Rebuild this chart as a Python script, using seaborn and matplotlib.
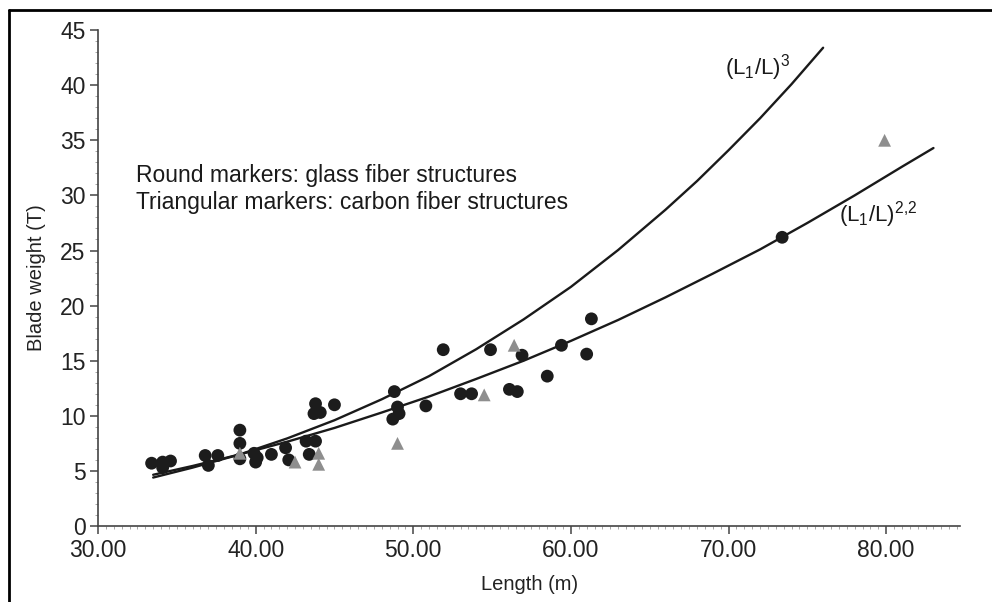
import pandas as pd
import matplotlib.pyplot as plt
import seaborn as sns
from matplotlib.lines import Line2D
from matplotlib.ticker import MultipleLocator, FormatStrFormatter

# Round markers: glass fiber blades
glass_length = [33.4, 34.1, 34.1, 34.6, 36.8, 37.0, 37.6, 39.0, 39.0, 39.0,
                39.9, 40.0, 40.1, 41.0, 41.9, 42.1, 43.2, 43.4, 43.8, 43.8,
                43.7, 44.1, 45.0, 48.8, 48.7, 49.0, 49.1, 50.8, 51.9, 53.0,
                53.7, 54.9, 56.1, 56.6, 56.9, 58.5, 59.4, 61.0, 61.3, 73.4]
glass_weight = [5.7, 5.8, 5.3, 5.9, 6.4, 5.5, 6.4, 8.7, 7.5, 6.1,
                6.6, 5.8, 6.2, 6.5, 7.1, 6.0, 7.7, 6.5, 7.7, 11.1,
                10.2, 10.3, 11.0, 12.2, 9.7, 10.8, 10.2, 10.9, 16.0, 12.0,
                12.0, 16.0, 12.4, 12.2, 15.5, 13.6, 16.4, 15.6, 18.8, 26.2]

# Triangular markers: carbon fiber blades
carbon_length = [39.0, 42.5, 44.0, 44.0, 49.0, 54.5, 56.4, 79.9]
carbon_weight = [6.6, 5.8, 6.6, 5.6, 7.5, 11.9, 16.4, 35.0]

# scaling curves
cube_length = [33.5, 36, 39, 42, 45, 48, 51, 54, 57, 60, 63, 66, 68, 70,
               72, 74, 76]
cube_weight = [4.4, 5.3, 6.5, 7.95, 9.6, 11.5, 13.6, 16.05, 18.75, 21.7,
               25.05, 28.7, 31.3, 34.1, 37.0, 40.1, 43.4]
pow22_length = [33.5, 36, 39, 42, 45, 48, 51, 54, 57, 60, 63, 66, 69, 72,
                75, 78, 81, 83]
pow22_weight = [4.65, 5.45, 6.5, 7.65, 8.9, 10.3, 11.75, 13.35, 15.0, 16.8,
                18.7, 20.75, 22.9, 25.1, 27.5, 30.0, 32.6, 34.3]

sns.set_style('ticks')
plt.rcParams['font.family'] = ['Liberation Sans', 'DejaVu Sans']
plt.rcParams['mathtext.fontset'] = 'custom'
plt.rcParams['mathtext.rm'] = 'Liberation Sans'
plt.rcParams['mathtext.it'] = 'Liberation Sans'

df = pd.concat([
    pd.DataFrame({'Length': glass_length, 'Weight': glass_weight, 'Fiber': 'glass'}),
    pd.DataFrame({'Length': carbon_length, 'Weight': carbon_weight, 'Fiber': 'carbon'}),
], ignore_index=True)

fig = plt.figure(figsize=(9.92, 6.02), dpi=100)
ax = fig.add_axes([0.0988, 0.1262, 0.8692, 0.8238])

sns.lineplot(x=cube_length, y=cube_weight, color='#1a1a1a', linewidth=1.7,
             sort=False, ax=ax)
sns.lineplot(x=pow22_length, y=pow22_weight, color='#1a1a1a', linewidth=1.7,
             sort=False, ax=ax)

sns.scatterplot(data=df, x='Length', y='Weight', hue='Fiber', style='Fiber',
                palette={'glass': '#1c1c1c', 'carbon': '#8e8e8e'},
                markers={'glass': 'o', 'carbon': '^'},
                s=85, linewidth=0, legend=False, ax=ax, zorder=3)

ax.set_xlim(30, 84.7)
ax.set_ylim(0, 45)
ax.xaxis.set_major_locator(MultipleLocator(10))
ax.xaxis.set_minor_locator(MultipleLocator(0.5))
ax.xaxis.set_major_formatter(FormatStrFormatter('%.2f'))
ax.yaxis.set_major_locator(MultipleLocator(5))
ax.yaxis.set_minor_locator(MultipleLocator(1))

sns.despine(ax=ax)
for sp in ('left', 'bottom'):
    ax.spines[sp].set_color('#444444')
    ax.spines[sp].set_linewidth(1.2)
ax.tick_params(axis='both', which='major', length=6, width=1.1,
               color='#444444', labelsize=16.5, labelcolor='#222222', pad=3)
ax.tick_params(axis='both', which='minor', length=2, width=0.6, color='#999999')

ax.set_xlabel('Length (m)', fontsize=14.5, color='#222222', labelpad=10)
ax.set_ylabel('Blade weight (T)', fontsize=14.5, color='#222222', labelpad=10)

ax.text(32.4, 31.8, 'Round markers: glass fiber structures', fontsize=16.5,
        color='#1a1a1a', va='center')
ax.text(32.4, 29.4, 'Triangular markers: carbon fiber structures', fontsize=16.5,
        color='#1a1a1a', va='center')
ax.text(69.8, 41.6, r'(L$_1$/L)$^3$', fontsize=16, color='#1a1a1a', va='center')
ax.text(77.0, 28.3, r'(L$_1$/L)$^{2{,}2}$', fontsize=16, color='#1a1a1a', va='center')

# outer frame of the cropped figure
fig.add_artist(Line2D([0.009, 0.009], [0, 0.983], transform=fig.transFigure,
                      color='black', linewidth=2))
fig.add_artist(Line2D([0.009, 1.0], [0.983, 0.983], transform=fig.transFigure,
                      color='black', linewidth=2))

plt.savefig('out.png', dpi=100)
